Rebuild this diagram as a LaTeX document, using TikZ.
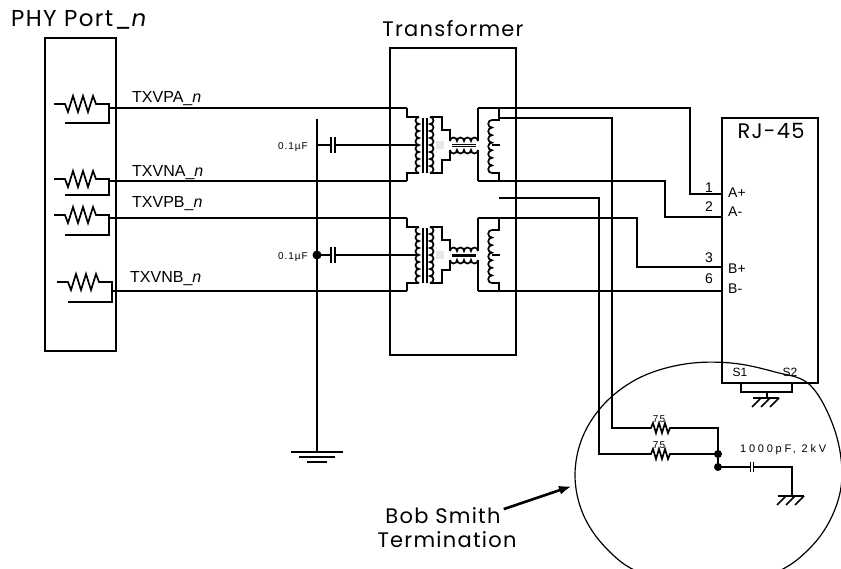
\documentclass[tikz,border=0pt]{standalone}
\usepackage{fontspec}
\setmainfont{Liberation Sans}
\newfontfamily\headfont{Poppins}[LetterSpace=6]
\newfontfamily\tinyfont{Liberation Sans}[LetterSpace=10]
\newfontfamily\widefont{Liberation Sans}[LetterSpace=25]
\usetikzlibrary{arrows.meta}

\tikzset{
  wire/.style={line width=1.7pt},
  lbl/.style={font=\fontsize{16}{18}\selectfont, inner sep=0pt, anchor=base west},
  head/.style={font=\headfont\fontsize{21}{24}\selectfont, inner sep=0pt, anchor=base},
  pinno/.style={font=\fontsize{14}{16}\selectfont, inner sep=0pt, anchor=base east},
  pinname/.style={font=\fontsize{14}{16}\selectfont, inner sep=0pt, anchor=base west},
  small/.style={font=\tinyfont\fontsize{10}{12}\selectfont, inner sep=0pt},
  dot/.style={circle, fill=black, inner sep=0pt, minimum size=8pt},
}

% resistor of the PHY port: x, stub y, return y
\newcommand{\phyres}[3]{%
  \draw[wire] (#1,#2) -- ++(11,0) -- ++(3,8) -- ++(5,-16) -- ++(5,16) -- ++(5,-16)
    -- ++(5,16) -- ++(5,-16) -- ++(3,8) -- ++(13,0) |- (#1+11,#3);}
% small resistor of the termination: x, y
\newcommand{\termres}[2]{%
  \draw[wire] (#1,#2) -- ++(3,0) -- ++(2,-5) -- ++(3,10) -- ++(3,-10) -- ++(3,10)
    -- ++(3,-10) -- ++(3,10) -- ++(2,-5) -- ++(1,0);}
% coils: x, y, bumps, radius
\newcommand{\coilL}[4]{\draw[wire] (#1,#2) foreach \k in {1,...,#3}{arc[start angle=270, end angle=90, radius=#4]};}
\newcommand{\coilR}[4]{\draw[wire] (#1,#2) foreach \k in {1,...,#3}{arc[start angle=-90, end angle=90, radius=#4]};}
\newcommand{\coilU}[4]{\draw[wire] (#1,#2) foreach \k in {1,...,#3}{arc[start angle=180, end angle=360, radius=#4]};}
\newcommand{\coilD}[4]{\draw[wire] (#1,#2) foreach \k in {1,...,#3}{arc[start angle=180, end angle=0, radius=#4]};}
% one transformer with its choke: y shift, core width, choke core
\newcommand{\xfmr}[3]{%
  \begin{scope}[shift={(0,#1)}]
    % line from the PHY side
    \draw[wire] (407,108) -- (407,117) -- (419,117);
    \coilL{419}{117}{8}{3.5}
    \draw[wire] (419,173) -- (407,173) -- (407,181);
    \draw[line width=#2] (423,118) -- (423,173) (427,118) -- (427,173);
    % secondary
    \draw[wire] (450,141) -- (450,130) -- (442,130) -- (442,117) -- (430,117);
    \coilR{430}{117}{8}{3.5}
    \draw[wire] (430,173) -- (442,173) -- (442,160) -- (450,160) -- (450,150);
    \fill[gray!18] (436,141) rectangle (444,149);
    % choke
    \coilU{450}{141}{4}{3.5}
    \coilD{450}{150}{4}{3.5}
    #3
    \draw[wire] (478,141) -- (478,108);
    \draw[wire] (478,150) -- (478,181);
    % line side
    \draw[wire] (499,108) -- (499,120) -- (492,120);
    \coilL{492}{120}{7}{3.786}
    \draw[wire] (492,173) -- (499,173) -- (499,181);
    \draw[wire] (492,145) -- (500,145);
  \end{scope}}
% chassis ground: x, y
\newcommand{\chassis}[2]{%
  \draw[wire] (#1-14,#2) -- (#1+12,#2);
  \foreach \dx in {-6,3,12} \draw[wire] (#1+\dx,#2) -- ++(-9,9);}

\begin{document}
\begin{tikzpicture}[x=1pt,y=-1pt]
  \useasboundingbox (0,0) rectangle (841,569);

  % PHY port
  \node[head, anchor=base west, font=\headfont\fontsize{23}{26}\selectfont] (phy) at (11,27) {PHY Port\_\textit{n}};
  \draw[wire] (45,38) rectangle (116,351);
  \phyres{54}{104}{123}
  \phyres{54}{179}{195}
  \phyres{54}{215}{235}
  \phyres{57}{282}{302}
  \node[lbl] (lpa) at (132,103) {TXVPA\_\textit{n}};
  \node[lbl] (lna) at (132,177) {TXVNA\_\textit{n}};
  \node[lbl] (lpb) at (132,208) {TXVPB\_\textit{n}};
  \node[lbl] (lnb) at (130,283) {TXVNB\_\textit{n}};
  \draw[wire] (109,108) -- (407,108);
  \draw[wire] (109,181) -- (407,181);
  \draw[wire] (109,218) -- (407,218);
  \draw[wire] (112,291) -- (407,291);

  % transformer
  \node[head] (xlbl) at (453,37) {Transformer};
  \draw[wire] (390,48) rectangle (516,355);
  \xfmr{0}{1.2pt}{\draw[line width=1.1pt] (452,144.2) -- (476,144.2) (452,146.8) -- (476,146.8);}
  \xfmr{110}{2pt}{\draw[line width=3.2pt] (452,145.5) -- (476,145.5);}

  % common mode capacitors to ground
  \coordinate (gnd) at (317,452);
  \draw[wire] (317,119) -- (gnd);
  \draw[wire] (gnd) ++(-26,0) -- ++(52,0);
  \draw[wire] (gnd) ++(-18,5) -- ++(36,0);
  \draw[wire] (gnd) ++(-10,10) -- ++(20,0);
  \foreach \cy in {145,255} {
    \draw[wire] (317,\cy) -- (331,\cy) (335,\cy) -- (416,\cy);
    \draw[line width=1.8pt] (331,\cy-8) -- (331,\cy+8) (335,\cy-8) -- (335,\cy+8);
    \node[small, anchor=base east] at (308,\cy+5) {0.1µF};
  }
  \node[dot, minimum size=9pt] (capjn) at (317,255) {};

  % RJ-45
  \draw[wire] (722,118) rectangle (818,383);
  \node[head] (rj) at (771,139) {RJ-45};
  \coordinate (pa) at (722,194);
  \coordinate (na) at (722,217);
  \coordinate (pb) at (722,267);
  \coordinate (nb) at (722,291);
  \draw[wire] (478,108) -| (690,194) -- (pa);
  \draw[wire] (478,181) -| (665,217) -- (na);
  \draw[wire] (478,218) -| (637,267) -- (pb);
  \draw[wire] (478,291) -- (nb);
  \node[pinno] at (713,193) {1};
  \node[pinno] at (713,212) {2};
  \node[pinno] at (713,263) {3};
  \node[pinno] at (713,284) {6};
  \node[pinname] at (728,198) {A+};
  \node[pinname] at (728,217) {A-};
  \node[pinname] at (728,274) {B+};
  \node[pinname] at (728,294) {B-};
  \node[font=\fontsize{12}{14}\selectfont, inner sep=0pt, anchor=base] at (740,377) {S1};
  \node[font=\fontsize{12}{14}\selectfont, inner sep=0pt, anchor=base] at (790,377) {S2};
  \draw[wire] (741,383) -- (741,392) -- (792,392) -- (792,383);
  \draw[wire] (767,392) -- (767,398);
  \chassis{767}{398}

  % Bob Smith termination
  \coordinate (jt) at (718,454);
  \coordinate (jc) at (718,467);
  \draw[wire] (499,118) -| (612,428) -- (648,428);
  \draw[wire] (499,198) -| (599,454) -- (648,454);
  \termres{648}{428}
  \termres{648}{454}
  \node[small, anchor=base] at (659,422) {75};
  \node[small, anchor=base] at (659,448) {75};
  \draw[wire] (671,428) -| (jt);
  \draw[wire] (671,454) -- (jt);
  \draw[wire] (jt) -- (jc);
  \node[dot] at (jt) {};
  \node[dot] at (jc) {};
  \draw[wire] (jc) -- (750,467) (754,467) -| (792,496);
  \draw[line width=1.8pt] (750.5,462) -- (750.5,472) (753.5,462) -- (753.5,472);
  \chassis{792}{496}
  \node[font=\widefont\fontsize{11}{13}\selectfont, inner sep=0pt, anchor=base west] at (740,452) {1000pF, 2kV};
  \draw[line width=1.2pt] plot[smooth cycle, tension=0.6] coordinates {
    (575,475) (583,436) (606,402) (641,377) (685,364) (731,363) (775,372)
    (810,385) (834,428) (842,475) (833,514) (810,548) (774,573) (708,588)
    (641,573) (606,548) (583,514)};

  \node[head] (bob) at (443,523) {Bob Smith};
  \node[head] (term) at (447,547) {Termination};
  \draw[line width=2.6pt, -{Latex[length=13pt,width=9pt]}] (bob.east) ++(3,-6) -- (572,486);
\end{tikzpicture}
\end{document}
